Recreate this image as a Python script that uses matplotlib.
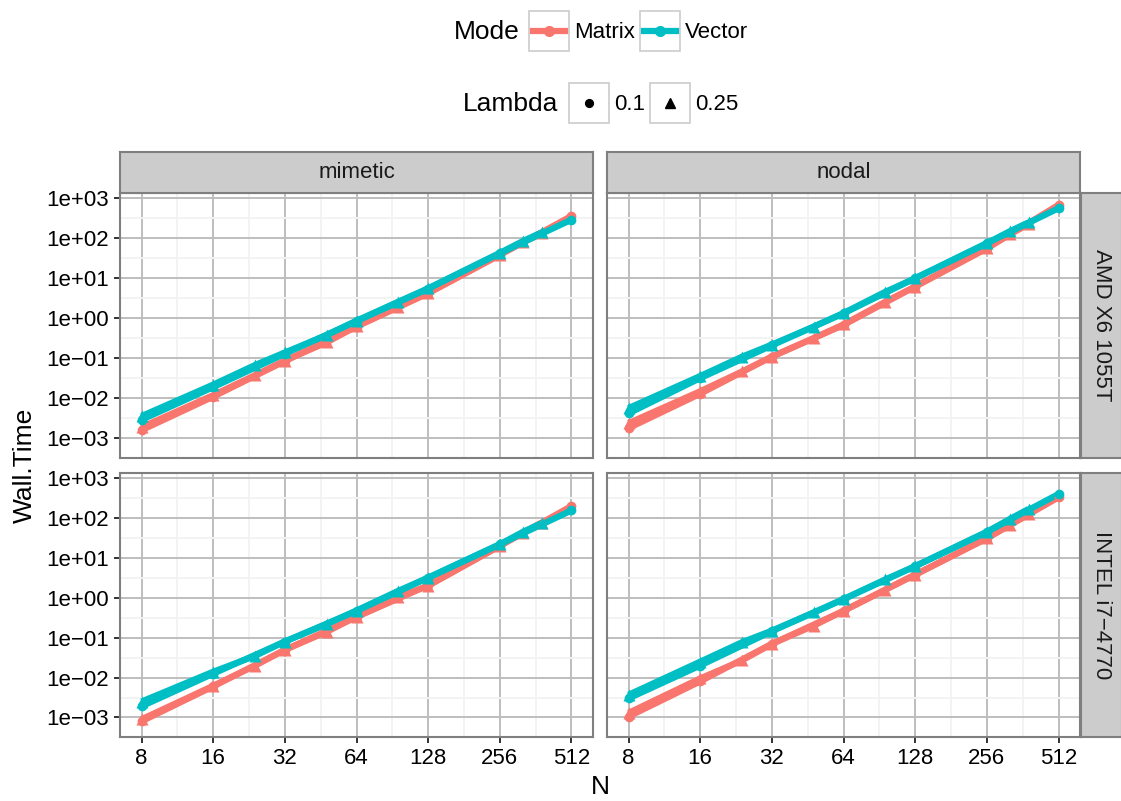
import matplotlib
matplotlib.use("Agg")
import matplotlib.pyplot as plt
from matplotlib.patches import Rectangle
from matplotlib.lines import Line2D
from matplotlib.ticker import FixedLocator, NullFormatter

plt.rcParams['font.family'] = ['Liberation Sans', 'DejaVu Sans']

# problem sizes for the two Lambda runs
n_01 = [8, 16, 32, 64, 128, 256, 512]
n_025 = [8, 16, 24, 32, 48, 64, 96, 128, 256, 320, 384]

# wall time (s), mimetic scheme on AMD X6 1055T
mim_amd_matrix_01 = [1.6e-3, 0.011, 0.085, 0.62, 4.2, 38, 360]
mim_amd_matrix_025 = [1.9e-3, 0.012, 0.038, 0.088, 0.25, 0.63, 1.95, 4.3, 39, 80, 135]
mim_amd_vector_01 = [2.9e-3, 0.019, 0.13, 0.85, 5.5, 42, 290]
mim_amd_vector_025 = [3.6e-3, 0.022, 0.068, 0.14, 0.38, 0.87, 2.6, 5.6, 43, 85, 140]

# nodal scheme on AMD X6 1055T
nod_amd_matrix_01 = [1.8e-3, 0.013, 0.11, 0.68, 6.2, 56, 680]
nod_amd_matrix_025 = [2.4e-3, 0.015, 0.047, 0.11, 0.32, 0.70, 2.6, 6.2, 56, 125, 225]
nod_amd_vector_01 = [4.2e-3, 0.032, 0.21, 1.33, 10, 75, 560]
nod_amd_vector_025 = [5.7e-3, 0.036, 0.11, 0.22, 0.62, 1.35, 4.6, 10, 75, 150, 250]

# mimetic scheme on INTEL i7-4770
mim_int_matrix_01 = [8.0e-4, 6.0e-3, 0.049, 0.33, 2.05, 20, 200]
mim_int_matrix_025 = [9.0e-4, 6.2e-3, 0.020, 0.050, 0.14, 0.34, 1.05, 2.0, 20, 43, 77]
mim_int_vector_01 = [1.9e-3, 0.0125, 0.080, 0.47, 3.2, 22, 155]
mim_int_vector_025 = [2.5e-3, 0.014, 0.035, 0.080, 0.22, 0.48, 1.5, 3.2, 22, 45, 75]

# nodal scheme on INTEL i7-4770
nod_int_matrix_01 = [1.05e-3, 8.0e-3, 0.070, 0.47, 3.8, 31, 330]
nod_int_matrix_025 = [1.3e-3, 9.5e-3, 0.027, 0.070, 0.20, 0.47, 1.6, 3.8, 31, 68, 125]
nod_int_vector_01 = [3.0e-3, 0.020, 0.145, 0.92, 6.2, 45, 400]
nod_int_vector_025 = [3.7e-3, 0.025, 0.077, 0.15, 0.43, 0.93, 2.9, 6.2, 45, 95, 170]

schemes = ['mimetic', 'nodal']
machines = ['AMD X6 1055T', 'INTEL i7\u22124770']
modes = ['Matrix', 'Vector']
lambdas = ['0.1', '0.25']

x_ticks = [8, 16, 32, 64, 128, 256, 512]
x_labels = ['8', '16', '32', '64', '128', '256', '512']
y_ticks = [1e-3, 1e-2, 1e-1, 1e0, 1e1, 1e2, 1e3]
y_labels = ['1e\u221203', '1e\u221202', '1e\u221201', '1e+00', '1e+01', '1e+02', '1e+03']

panel_data = {
    ('mimetic', 'AMD X6 1055T'): [mim_amd_matrix_01, mim_amd_matrix_025, mim_amd_vector_01, mim_amd_vector_025],
    ('nodal', 'AMD X6 1055T'): [nod_amd_matrix_01, nod_amd_matrix_025, nod_amd_vector_01, nod_amd_vector_025],
    ('mimetic', 'INTEL i7\u22124770'): [mim_int_matrix_01, mim_int_matrix_025, mim_int_vector_01, mim_int_vector_025],
    ('nodal', 'INTEL i7\u22124770'): [nod_int_matrix_01, nod_int_matrix_025, nod_int_vector_01, nod_int_vector_025],
}

mode_colors = {'Matrix': '#F8766D', 'Vector': '#00BFC4'}
lam_n = {'0.1': n_01, '0.25': n_025}
lam_marker = {'0.1': ('o', 7), '0.25': ('^', 8.5)}

W, H = 1121, 801
fig = plt.figure(figsize=(W / 100, H / 100), dpi=100)


def px_box(x0, y0, x1, y1):
    return [x0 / W, 1 - y1 / H, (x1 - x0) / W, (y1 - y0) / H]


# legend layer (pixel coordinates, y downwards)
leg = fig.add_axes([0, 0, 1, 1])
leg.set_xlim(0, W)
leg.set_ylim(H, 0)
leg.axis('off')

key_edge = '#CCCCCC'
leg.text(520, 32, 'Mode', ha='right', va='center', fontsize=19)
for i, m in enumerate(modes):
    kx = 529 + i * 111
    leg.add_patch(Rectangle((kx, 11), 40, 40, fc='white', ec=key_edge, lw=1.2))
    leg.add_line(Line2D([kx + 4, kx + 36], [31, 31], color=mode_colors[m], lw=4.5))
    leg.plot([kx + 20], [31], 'o', color=mode_colors[m], ms=7)
    leg.text(kx + 45, 32, m, ha='left', va='center', fontsize=16)

leg.text(558, 104, 'Lambda', ha='right', va='center', fontsize=19)
for i, lam in enumerate(lambdas):
    kx = 569 + i * 81
    leg.add_patch(Rectangle((kx, 83), 40, 40, fc='white', ec=key_edge, lw=1.2))
    mk, ms = lam_marker[lam]
    leg.plot([kx + 20], [103], mk, color='black', ms=ms * 0.8)
    leg.text(kx + 45, 104, lam, ha='left', va='center', fontsize=16)

panel_x = {'mimetic': (120, 593), 'nodal': (607, 1080)}
panel_y = {machines[0]: (193, 458), machines[1]: (473, 737)}

for r, mach in enumerate(machines):
    for c, sch in enumerate(schemes):
        x0, x1 = panel_x[sch]
        y0, y1 = panel_y[mach]
        ax = fig.add_axes(px_box(x0, y0, x1, y1))
        vals = panel_data[(sch, mach)]
        groups = [(m, lam) for m in modes for lam in lambdas]
        for (m, lam), v in zip(groups, vals):
            ax.plot(lam_n[lam], v, color=mode_colors[m], lw=4.5,
                    solid_capstyle='butt', zorder=3)
        for (m, lam), v in zip(groups, vals):
            mk, ms = lam_marker[lam]
            ax.plot(lam_n[lam], v, ls='none', marker=mk, ms=ms,
                    color=mode_colors[m], mec='none', zorder=4)

        ax.set_xscale('log', base=2)
        ax.set_yscale('log')
        ax.set_xlim(2 ** 2.7, 2 ** 9.3)
        ax.set_ylim(10 ** -3.49, 10 ** 3.13)
        ax.xaxis.set_major_locator(FixedLocator(x_ticks))
        ax.xaxis.set_minor_locator(FixedLocator([2 ** (k + 0.5) for k in range(2, 10)]))
        ax.yaxis.set_major_locator(FixedLocator(y_ticks))
        ax.yaxis.set_minor_locator(FixedLocator([10 ** (k + 0.5) for k in range(-4, 3)]))
        ax.xaxis.set_minor_formatter(NullFormatter())
        ax.yaxis.set_minor_formatter(NullFormatter())
        ax.set_xticklabels(x_labels)
        ax.set_yticklabels(y_labels)

        ax.set_axisbelow(True)
        ax.grid(which='major', color='#BEBEBE', lw=1.4)
        ax.grid(which='minor', color='#F3F3F3', lw=1.4)
        for sp in ax.spines.values():
            sp.set_color('#7F7F7F')
            sp.set_linewidth(1.5)
            sp.set_zorder(5)

        ax.tick_params(which='minor', length=0)
        ax.tick_params(which='major', length=4.3, width=1.4, color='#333333',
                       labelsize=16, pad=3.5, labelcolor='black')
        if c > 0:
            ax.tick_params(axis='y', length=0, labelleft=False)
        if r == 0:
            ax.tick_params(axis='x', length=0, labelbottom=False)

        # facet strips
        if r == 0:
            st = fig.add_axes(px_box(x0, 152, x1, 193))
            st.set_facecolor('#CCCCCC')
            st.set_xticks([])
            st.set_yticks([])
            for sp in st.spines.values():
                sp.set_color('#7F7F7F')
                sp.set_linewidth(1.5)
            st.text(0.5, 0.5, sch, transform=st.transAxes, ha='center',
                    va='center', fontsize=16, color='#1A1A1A')
        if c == 1:
            st = fig.add_axes(px_box(1081, y0, 1122, y1))
            st.set_facecolor('#CCCCCC')
            st.set_xticks([])
            st.set_yticks([])
            for sp in st.spines.values():
                sp.set_color('#7F7F7F')
                sp.set_linewidth(1.5)
            st.text(0.5, 0.5, mach, transform=st.transAxes, ha='center',
                    va='center', fontsize=16, color='#1A1A1A', rotation=-90)

fig.text(25 / W, 1 - 465 / H, 'Wall.Time', rotation=90, ha='center',
         va='center', fontsize=19)
fig.text(600 / W, 1 - 787 / H, 'N', ha='center', va='center', fontsize=19)

fig.savefig('out.png', dpi=100)
